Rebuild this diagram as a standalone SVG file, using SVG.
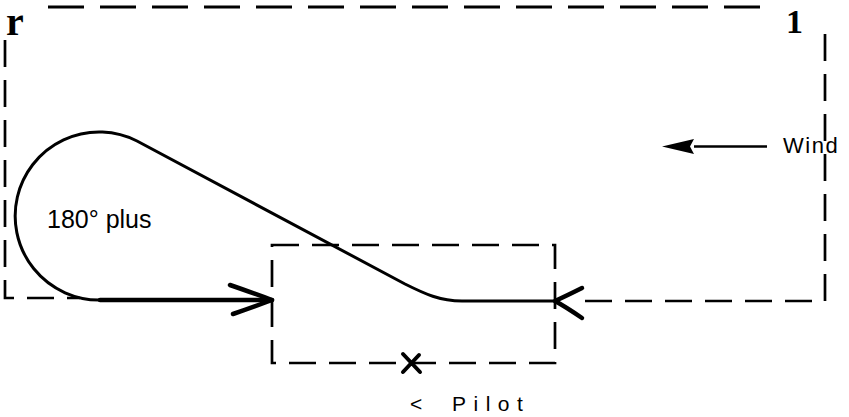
<svg xmlns="http://www.w3.org/2000/svg" width="849" height="417" viewBox="0 0 849 417">
<style>
.dash{fill:none;stroke:#000;stroke-width:2.7;stroke-dasharray:27 13}
.dashL{fill:none;stroke:#000;stroke-width:3;stroke-dasharray:36 16}
.flight{fill:none;stroke:#000;stroke-width:3;stroke-linecap:round;stroke-linejoin:round}
.head{fill:none;stroke:#000;stroke-width:4.5;stroke-linecap:round;stroke-linejoin:round}
.lbl{font-family:"Liberation Sans",Arial,sans-serif;fill:#000}
.mark{font-family:"Liberation Serif","Times New Roman",serif;font-weight:bold;fill:#000}
</style>
<g id="field">
<path class="dashL" d="M48 7 H766"/>
<path class="dash" d="M5 40 V298 H80"/>
<path class="dash" d="M825 34 V301 H585"/>
</g>
<g id="box">
<rect class="dash" x="272" y="245" width="283" height="118"/>
</g>
<g id="connectors">
<path class="flight" d="M555 301 H462 C440 301 425 294 405 284 L137 141 A84 84 0 1 0 100 300"/>
<path class="flight" style="stroke-width:4.5" d="M100 300 H272"/>
<path class="head" d="M230 285 Q256 294 272 300 Q256 306 233 314"/>
<path class="head" d="M582 288 Q566 296 555 301 Q566 307 582 318"/>
<path d="M694 146.5 H767" stroke="#000" stroke-width="2.5"/>
<path d="M662 146.5 L694 139 L690 146.5 L694 154 Z" fill="#000"/>
</g>
<g id="pilot">
<path d="M403 354 L420 372 M403 372 L419 355" stroke="#000" stroke-width="4" stroke-linecap="round"/>
<text class="lbl" x="410" y="411" font-size="21">&lt;</text>
<text class="lbl" x="452" y="411" font-size="21" letter-spacing="7.5">Pilot</text>
</g>
<g id="labels">
<text class="mark" x="6" y="35" font-size="40">r</text>
<text class="mark" x="786" y="33" font-size="34">1</text>
<text class="lbl" x="783" y="153" font-size="22" letter-spacing="1.5">Wind</text>
<text class="lbl" x="47" y="228" font-size="25">180° plus</text>
</g>
</svg>
